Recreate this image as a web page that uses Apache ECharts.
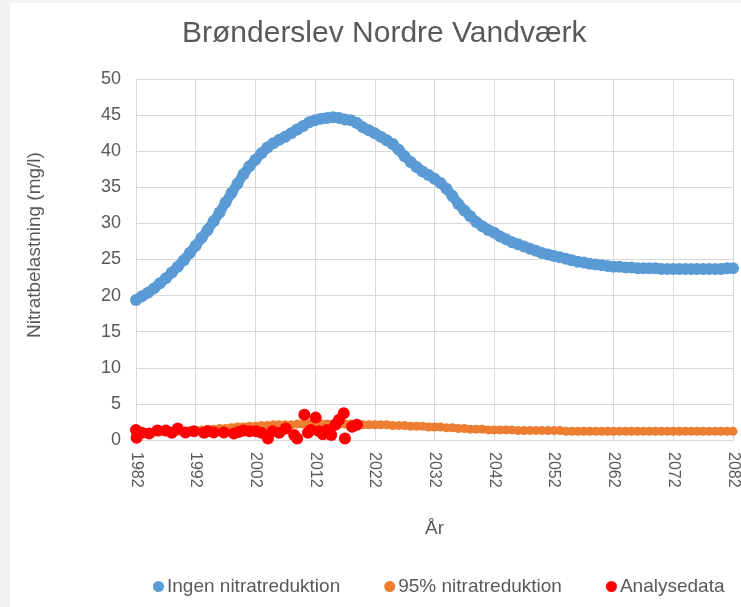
<!DOCTYPE html>
<html>
<head>
<meta charset="utf-8">
<script src="https://cdn.jsdelivr.net/npm/echarts@6/dist/echarts.min.js"></script>
<style>
  body { margin: 0; background: #f2f2f0; }
  #chart { position: absolute; left: 10px; top: 3px; width: 731px; height: 604px; background: #fff; }
</style>
</head>
<body>
<div id="chart"></div>
<script>
// years 1982..2082, one model value per year
var years = [];
for (var y = 1982; y <= 2082; y++) years.push(String(y));

var ingenValues = [
  19.4, 19.9, 20.4, 21.0, 21.7, 22.4, 23.2, 24.0, 24.9, 25.9,
  26.9, 28.0, 29.1, 30.3, 31.5, 32.9, 34.2, 35.5, 36.8, 37.9,
  38.8, 39.7, 40.5, 41.1, 41.6, 42.0, 42.5, 43.0, 43.5, 44.0,
  44.3, 44.5, 44.6, 44.7, 44.6, 44.4, 44.3, 43.9, 43.3, 42.9,
  42.5, 42.0, 41.5, 41.0, 40.2, 39.3, 38.5, 37.8, 37.2, 36.7,
  36.2, 35.6, 34.8, 33.8, 32.7, 31.8, 31.0, 30.2, 29.6, 29.1,
  28.7, 28.2, 27.8, 27.4, 27.1, 26.8, 26.5, 26.2, 25.9, 25.7,
  25.5, 25.3, 25.1, 24.9, 24.7, 24.6, 24.4, 24.3, 24.2, 24.1,
  24.0, 24.0, 23.9, 23.9, 23.8, 23.8, 23.8, 23.8, 23.7, 23.7,
  23.7, 23.7, 23.7, 23.7, 23.7, 23.7, 23.7, 23.7, 23.7, 23.8,
  23.8
];

var reduktionValues = [
  1.0, 1.0, 1.0, 1.1, 1.1, 1.1, 1.2, 1.2, 1.2, 1.3,
  1.3, 1.4, 1.5, 1.5, 1.6, 1.6, 1.7, 1.8, 1.8, 1.9,
  1.9, 2.0, 2.0, 2.1, 2.1, 2.1, 2.1, 2.2, 2.2, 2.2,
  2.2, 2.2, 2.2, 2.2, 2.2, 2.2, 2.2, 2.2, 2.1, 2.1,
  2.1, 2.1, 2.1, 2.0, 2.0, 2.0, 1.9, 1.9, 1.9, 1.8,
  1.8, 1.8, 1.7, 1.7, 1.6, 1.6, 1.5, 1.5, 1.5, 1.4,
  1.4, 1.4, 1.4, 1.4, 1.3, 1.3, 1.3, 1.3, 1.3, 1.3,
  1.3, 1.3, 1.2, 1.2, 1.2, 1.2, 1.2, 1.2, 1.2, 1.2,
  1.2, 1.2, 1.2, 1.2, 1.2, 1.2, 1.2, 1.2, 1.2, 1.2,
  1.2, 1.2, 1.2, 1.2, 1.2, 1.2, 1.2, 1.2, 1.2, 1.2,
  1.2
];

// measured samples (decimal year, mg/l)
var analyseYears = [
  1982.0, 1982.1, 1982.4, 1983.0, 1984.2, 1985.6, 1987.0, 1988.0, 1989.0, 1990.3,
  1991.7, 1993.4, 1994.0, 1995.0, 1996.7, 1998.4, 1999.2, 2000.0, 2001.0, 2002.1,
  2003.0, 2004.1, 2004.9, 2006.0, 2007.1, 2008.5, 2009.0, 2010.2, 2010.8, 2011.3,
  2012.1, 2012.7, 2013.3, 2014.0, 2014.7, 2015.4, 2016.0, 2016.8, 2017.0, 2018.2,
  2019.0
];
var analyseValues = [
  1.4, 0.3, 1.0, 1.0, 0.9, 1.3, 1.3, 1.0, 1.6, 1.05,
  1.2, 1.0, 1.2, 1.05, 1.05, 0.9, 1.1, 1.3, 1.2, 1.2,
  1.0, 0.2, 1.2, 1.0, 1.6, 0.7, 0.2, 3.5, 1.0, 1.4,
  3.1, 1.2, 0.8, 1.4, 0.7, 2.1, 2.8, 3.7, 0.2, 1.85,
  2.1
];

var yTicks = { min: 0, max: 50, interval: 5 };

var textColor = '#595959';
var gridColor = '#d9d9d9';
var font = 'Liberation Sans, Arial, sans-serif';

var chart = echarts.init(document.getElementById('chart'));

var analysePoints = analyseYears.map(function (yr, i) { return [yr, analyseValues[i]]; });

var option = {
    backgroundColor: '#fff',
    textStyle: { fontFamily: font },
    title: {
        text: 'Brønderslev Nordre Vandværk',
        left: 167,
        top: 11,
        textStyle: { color: textColor, fontSize: 30, fontWeight: 'normal', fontFamily: font }
    },
    legend: {
        data: ['Ingen nitratreduktion', '95% nitratreduktion', 'Analysedata'],
        left: 138,
        bottom: 6,
        icon: 'circle',
        itemWidth: 11,
        itemHeight: 11,
        itemGap: 44,
        textStyle: { color: textColor, fontSize: 19, padding: [0, 0, 0, -2] }
    },
    graphic: [{
        type: 'text',
        rotation: Math.PI / 2,
        x: 25,
        y: 242,
        style: {
            text: 'Nitratbelastning (mg/l)',
            fill: textColor,
            font: '19px ' + font,
            textAlign: 'center',
            textVerticalAlign: 'middle'
        }
    }],
    grid: {
        left: 126,
        right: 8,
        top: 76,
        bottom: 167
    },
    xAxis: [{
        type: 'category',
        data: years,
        boundaryGap: false,
        name: 'År',
        nameLocation: 'middle',
        nameGap: 79,
        nameTextStyle: { color: textColor, fontSize: 19 },
        axisLine: { lineStyle: { color: gridColor } },
        axisTick: { show: false },
        axisLabel: { interval: 9, rotate: -90, color: textColor, fontSize: 16, margin: 12 },
        splitLine: { show: true, interval: 9, lineStyle: { color: gridColor } }
    }, {
        type: 'value',
        min: 1982,
        max: 2082,
        show: false
    }],
    yAxis: {
        type: 'value',
        min: yTicks.min,
        max: yTicks.max,
        interval: yTicks.interval,
        axisLine: { show: false },
        axisTick: { show: false },
        axisLabel: { color: textColor, fontSize: 18, margin: 15 },
        splitLine: { lineStyle: { color: gridColor } }
    },
    series: [
        {
            name: 'Ingen nitratreduktion',
            type: 'line',
            xAxisIndex: 0,
            symbol: 'circle',
            symbolSize: 12,
            showAllSymbol: true,
            itemStyle: { color: '#5b9bd5' },
            lineStyle: { color: '#5b9bd5', width: 10, cap: 'round', join: 'round' },
            data: ingenValues
        },
        {
            name: '95% nitratreduktion',
            type: 'line',
            xAxisIndex: 0,
            symbol: 'circle',
            symbolSize: 9,
            showAllSymbol: true,
            itemStyle: { color: '#ed7d31' },
            lineStyle: { color: '#ed7d31', width: 7, cap: 'round', join: 'round' },
            data: reduktionValues
        },
        {
            name: 'Analysedata',
            type: 'scatter',
            xAxisIndex: 1,
            z: 10,
            symbol: 'circle',
            symbolSize: 12,
            itemStyle: { color: '#ff0000', opacity: 1 },
            data: analysePoints
        }
    ]
};

chart.setOption(option);
</script>
</body>
</html>
